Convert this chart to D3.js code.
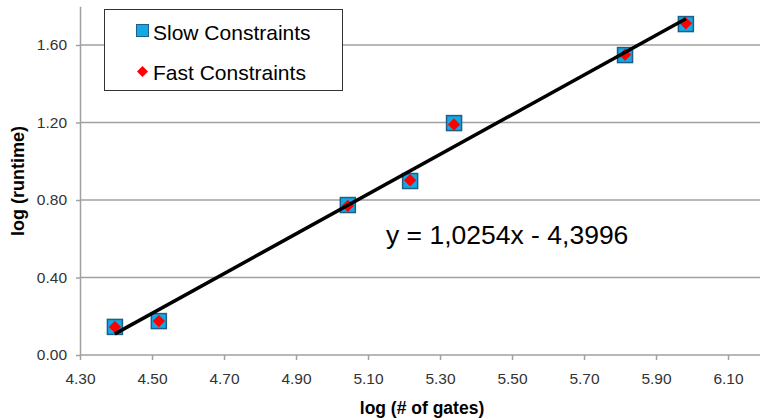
<!DOCTYPE html>
<html>
<head>
<meta charset="utf-8">
<script src="https://cdn.jsdelivr.net/npm/d3@7"></script>
<style>
  body { margin: 0; background: #fff; }
  svg { display: block; font-family: "Liberation Sans", Arial, sans-serif; }
</style>
</head>
<body>
<div id="chart"></div>
<script>
// data
var logGates = [4.397, 4.519, 5.044, 5.217, 5.339, 5.814, 5.983];
var slowRuntime = [0.145, 0.175, 0.774, 0.898, 1.197, 1.548, 1.708];
var fastRuntime = [0.145, 0.175, 0.770, 0.902, 1.190, 1.550, 1.712];
var xTicks = [4.30, 4.50, 4.70, 4.90, 5.10, 5.30, 5.50, 5.70, 5.90, 6.10];
var yTicks = [0.00, 0.40, 0.80, 1.20, 1.60];
var slope = 1.0254, intercept = -4.3996;

var w = 760, h = 420;

var xScale = d3.scaleLinear().domain([4.3, 6.2]).range([80, 764]);
var yScale = d3.scaleLinear().domain([0, 1.8]).range([355, 6.25]);

var svg = d3.select("#chart").append("svg")
    .attr("width", w)
    .attr("height", h);

// grid lines
svg.append("g")
   .selectAll("line")
   .data(yTicks.slice(1))
   .enter()
   .append("line")
   .attr("x1", 80)
   .attr("x2", w)
   .attr("y1", function(d) { return yScale(d); })
   .attr("y2", function(d) { return yScale(d); })
   .attr("stroke", "#a0a0a0")
   .attr("stroke-width", 1.5);

// x axis
var xAxis = d3.axisBottom(xScale)
    .tickValues(xTicks)
    .tickFormat(d3.format(".2f"))
    .tickSize(5)
    .tickSizeOuter(0);
var gx = svg.append("g")
    .attr("transform", "translate(0,355)")
    .call(xAxis);
gx.select(".domain").attr("stroke", "#a0a0a0").attr("stroke-width", 1.5)
  .attr("d", "M80,0H" + w);
gx.selectAll(".tick line").attr("stroke", "#a0a0a0").attr("stroke-width", 1.5);
gx.selectAll(".tick text")
  .attr("font-size", "15.5px")
  .attr("fill", "#333")
  .attr("font-family", "Liberation Sans, Arial, sans-serif")
  .attr("y", 18);

// y axis
var yAxis = d3.axisLeft(yScale)
    .tickValues(yTicks)
    .tickFormat(d3.format(".2f"))
    .tickSize(4)
    .tickSizeOuter(0);
var gy = svg.append("g")
    .attr("transform", "translate(80,0)")
    .call(yAxis);
gy.select(".domain").attr("stroke", "#a0a0a0").attr("stroke-width", 1.5);
gy.selectAll(".tick line").attr("stroke", "#a0a0a0").attr("stroke-width", 1.5);
gy.selectAll(".tick text")
  .attr("font-size", "15.5px")
  .attr("fill", "#333")
  .attr("font-family", "Liberation Sans, Arial, sans-serif")
  .attr("x", -13);

// slow markers (squares)
svg.append("g")
   .selectAll("rect")
   .data(logGates)
   .enter()
   .append("rect")
   .attr("x", function(d) { return xScale(d) - 7.5; })
   .attr("y", function(d, i) { return yScale(slowRuntime[i]) - 7.5; })
   .attr("width", 15)
   .attr("height", 15)
   .attr("fill", "#12a9e6")
   .attr("stroke", "#1d5f86")
   .attr("stroke-width", 1.5);

// fast markers (diamonds)
var diamond = d3.symbol().type(d3.symbolSquare).size(76);
svg.append("g")
   .selectAll("path")
   .data(logGates)
   .enter()
   .append("path")
   .attr("d", diamond)
   .attr("transform", function(d, i) {
       return "translate(" + xScale(d) + "," + yScale(fastRuntime[i]) + ") rotate(45)";
   })
   .attr("fill", "#ff0000");

// trend line
var x0 = d3.min(logGates), x1 = d3.max(logGates);
svg.append("line")
   .attr("x1", xScale(x0))
   .attr("y1", yScale(slope * x0 + intercept))
   .attr("x2", xScale(x1))
   .attr("y2", yScale(slope * x1 + intercept))
   .attr("stroke", "#000")
   .attr("stroke-width", 3.5);

// equation
svg.append("text")
   .attr("x", 386)
   .attr("y", 244)
   .attr("font-size", "26.5px")
   .attr("fill", "#000")
   .text("y = 1,0254x - 4,3996");

// legend
var legend = svg.append("g");
legend.append("rect")
   .attr("x", 104.5)
   .attr("y", 9.5)
   .attr("width", 238)
   .attr("height", 81)
   .attr("fill", "#fff")
   .attr("stroke", "#333")
   .attr("stroke-width", 1);
legend.append("rect")
   .attr("x", 136.5)
   .attr("y", 24.5)
   .attr("width", 12)
   .attr("height", 12)
   .attr("fill", "#12a9e6")
   .attr("stroke", "#1d5f86")
   .attr("stroke-width", 1);
legend.append("text")
   .attr("x", 153)
   .attr("y", 40)
   .attr("font-size", "21px")
   .text("Slow Constraints");
legend.append("path")
   .attr("d", d3.symbol().type(d3.symbolSquare).size(60))
   .attr("transform", "translate(142.5,71.5) rotate(45)")
   .attr("fill", "#ff0000");
legend.append("text")
   .attr("x", 153)
   .attr("y", 80)
   .attr("font-size", "21px")
   .text("Fast Constraints");

// axis titles
svg.append("text")
   .attr("x", 422)
   .attr("y", 414)
   .attr("text-anchor", "middle")
   .attr("font-size", "17.5px")
   .attr("font-weight", "bold")
   .text("log (# of gates)");

svg.append("text")
   .attr("transform", "translate(24,181) rotate(-90)")
   .attr("text-anchor", "middle")
   .attr("font-size", "18px")
   .attr("font-weight", "bold")
   .text("log (runtime)");
</script>
</body>
</html>
